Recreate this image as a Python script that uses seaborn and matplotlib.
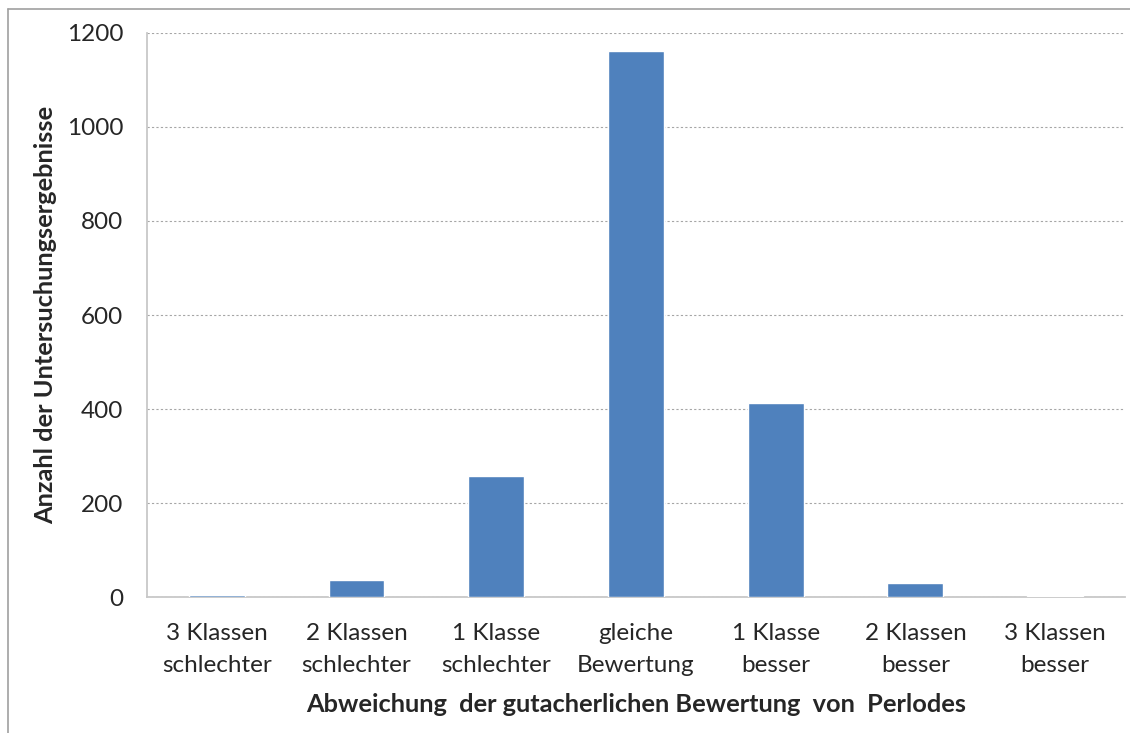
import matplotlib
matplotlib.use("Agg")
from matplotlib import pyplot as plt
from matplotlib.lines import Line2D
import seaborn as sns
import pandas as pd

categories = ["3 Klassen\nschlechter", "2 Klassen\nschlechter", "1 Klasse\nschlechter",
              "gleiche\nBewertung", "1 Klasse\nbesser", "2 Klassen\nbesser", "3 Klassen\nbesser"]
counts = [4, 37, 257, 1162, 413, 30, 2]
yticks = [0, 200, 400, 600, 800, 1000, 1200]

sns.set_style("white")
plt.rcParams['font.family'] = ['Lato', 'DejaVu Sans']

df = pd.DataFrame({"kat": categories, "n": counts})

fig = plt.figure(figsize=(11.3, 7.33), dpi=100)
ax = fig.add_axes([0.130, 0.1855, 0.8656, 0.7695])

sns.barplot(data=df, x="kat", y="n", color="#4F81BD", width=0.4,
            saturation=1, ax=ax, zorder=3)

ax.set_ylim(0, 1200)
ax.set_xlim(-0.5, len(categories) - 0.5)
ax.set_yticks(yticks)
ax.yaxis.grid(True, linestyle=(0, (2, 2)), color="#a6a6a6", linewidth=0.8, zorder=0)

for s in ["top", "right"]:
    ax.spines[s].set_visible(False)
for s in ["left", "bottom"]:
    ax.spines[s].set_color("#c8c8c8")
    ax.spines[s].set_linewidth(1.3)
    ax.spines[s].set_zorder(2)

# category boundary ticks on the x axis
ax.set_xticks([i + 0.5 for i in range(-1, len(categories))], minor=True)
ax.tick_params(axis="x", which="minor", length=7, color="#c8c8c8", width=1.3)
ax.tick_params(axis="x", which="major", length=0, labelsize=17.5, pad=19)
ax.tick_params(axis="y", length=7, color="#c8c8c8", width=1.3, labelsize=17.5, pad=10)
for lab in ax.get_xticklabels():
    lab.set_linespacing(1.6)

ax.set_xlabel("Abweichung  der gutacherlichen Bewertung  von  Perlodes",
              fontsize=18.3, fontweight="bold")
ax.set_ylabel("Anzahl der Untersuchungsergebnisse", fontsize=18.3, fontweight="bold")
ax.xaxis.set_label_coords(0.5, -0.19)
ax.yaxis.set_label_coords(-0.104, 0.5)
ax.xaxis.label.set_va("center")
ax.yaxis.label.set_va("center")

# outer chart frame (left and top edges visible)
fig.add_artist(Line2D([8 / 1130, 8 / 1130], [0, 1 - 9 / 733],
                      transform=fig.transFigure, color="#a0a0a0", linewidth=1.2))
fig.add_artist(Line2D([8 / 1130, 1], [1 - 9 / 733, 1 - 9 / 733],
                      transform=fig.transFigure, color="#a0a0a0", linewidth=1.2))

fig.savefig("out.png", dpi=100)
